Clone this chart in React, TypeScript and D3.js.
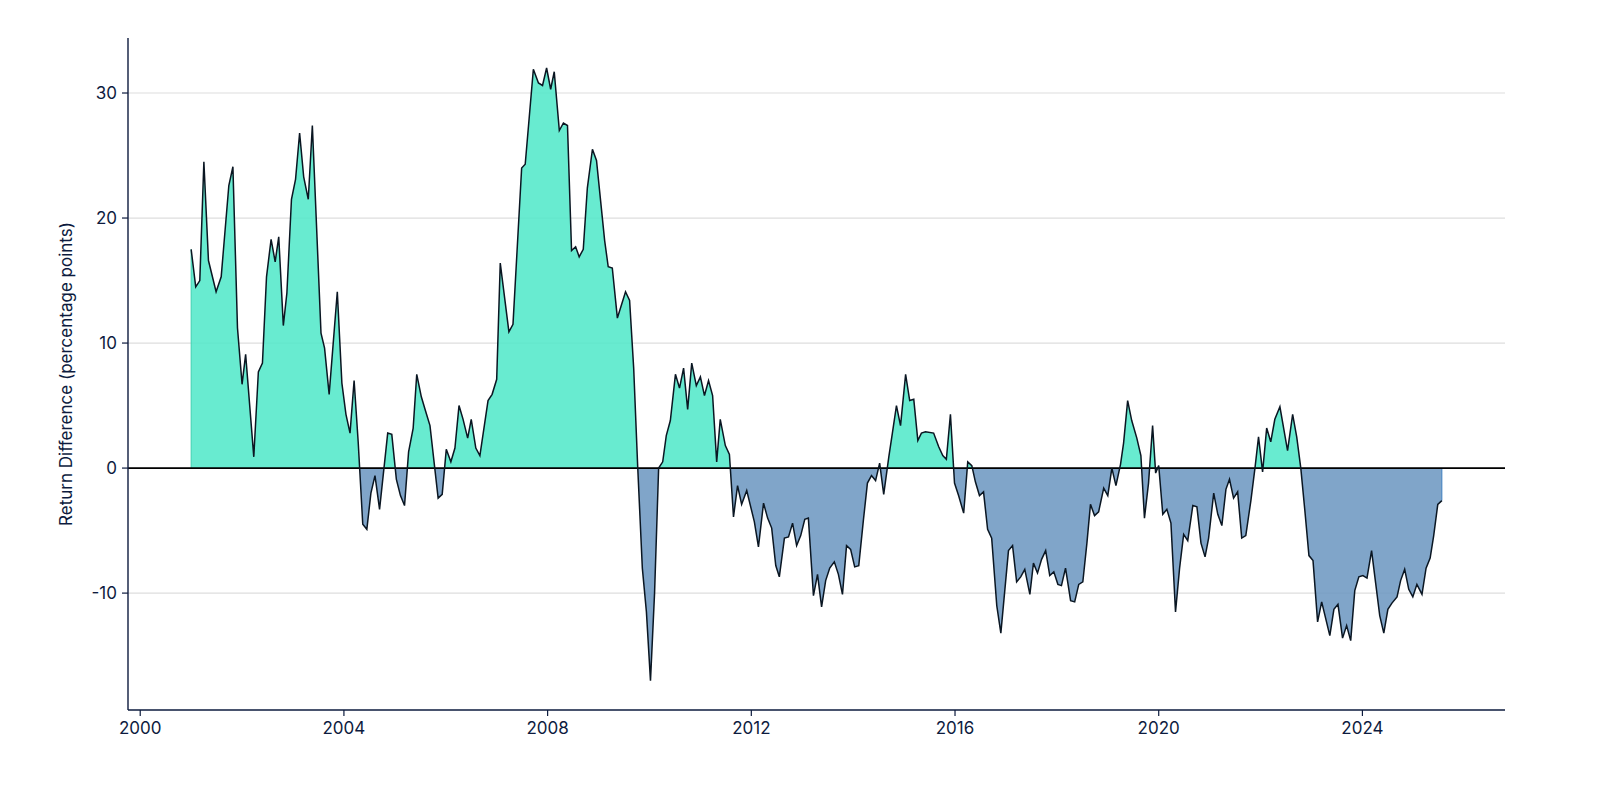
import * as d3 from "d3";

// observed vertices (decimal year)
const years = [
  2001.0, 2001.09, 2001.17, 2001.25, 2001.34, 2001.49, 2001.59, 2001.74, 2001.82, 2001.91,
  2002.0, 2002.07, 2002.23, 2002.32, 2002.4, 2002.48, 2002.57, 2002.65, 2002.72, 2002.81,
  2002.88, 2002.97, 2003.05, 2003.13, 2003.21, 2003.3, 2003.38, 2003.55, 2003.62, 2003.71,
  2003.87, 2003.96, 2004.04, 2004.12, 2004.2, 2004.28, 2004.37, 2004.45, 2004.53, 2004.61,
  2004.7, 2004.86, 2004.94, 2005.03, 2005.11, 2005.19, 2005.27, 2005.36, 2005.43, 2005.52,
  2005.6, 2005.69, 2005.85, 2005.93, 2006.01, 2006.1, 2006.18, 2006.26, 2006.34, 2006.43,
  2006.5, 2006.59, 2006.67, 2006.83, 2006.91, 2007.0, 2007.07, 2007.24, 2007.32, 2007.49,
  2007.56, 2007.72, 2007.82, 2007.9, 2007.98, 2008.06, 2008.13, 2008.23, 2008.31, 2008.39,
  2008.47, 2008.55, 2008.62, 2008.7, 2008.78, 2008.88, 2008.96, 2009.12, 2009.19, 2009.27,
  2009.37, 2009.53, 2009.61, 2009.69, 2009.77, 2009.86, 2009.94, 2010.02, 2010.1, 2010.18,
  2010.26, 2010.33, 2010.41, 2010.51, 2010.59, 2010.67, 2010.75, 2010.83, 2010.92, 2011.0,
  2011.08, 2011.16, 2011.24, 2011.32, 2011.39, 2011.49, 2011.57, 2011.65, 2011.73, 2011.81,
  2011.91, 2012.06, 2012.14, 2012.24, 2012.32, 2012.4, 2012.48, 2012.55, 2012.65, 2012.73,
  2012.81, 2012.89, 2012.97, 2013.05, 2013.12, 2013.22, 2013.3, 2013.38, 2013.46, 2013.54,
  2013.63, 2013.71, 2013.79, 2013.87, 2013.95, 2014.03, 2014.11, 2014.2, 2014.28, 2014.36,
  2014.44, 2014.52, 2014.6, 2014.7, 2014.77, 2014.85, 2014.93, 2015.03, 2015.11, 2015.19,
  2015.27, 2015.34, 2015.42, 2015.58, 2015.68, 2015.76, 2015.83, 2015.91, 2015.99, 2016.07,
  2016.17, 2016.25, 2016.33, 2016.4, 2016.48, 2016.56, 2016.64, 2016.72, 2016.82, 2016.9,
  2017.05, 2017.13, 2017.21, 2017.29, 2017.37, 2017.47, 2017.54, 2017.62, 2017.7, 2017.78,
  2017.86, 2017.94, 2018.02, 2018.09, 2018.17, 2018.27, 2018.35, 2018.43, 2018.51, 2018.59,
  2018.66, 2018.74, 2018.82, 2018.92, 2019.0, 2019.08, 2019.16, 2019.25, 2019.31, 2019.39,
  2019.47, 2019.57, 2019.65, 2019.72, 2019.8, 2019.88, 2019.94, 2020.0, 2020.08, 2020.16,
  2020.24, 2020.33, 2020.41, 2020.49, 2020.57, 2020.67, 2020.75, 2020.83, 2020.91, 2020.98,
  2021.08, 2021.16, 2021.24, 2021.32, 2021.39, 2021.47, 2021.55, 2021.63, 2021.71, 2021.81,
  2021.89, 2021.96, 2022.04, 2022.12, 2022.2, 2022.28, 2022.38, 2022.53, 2022.63, 2022.71,
  2022.79, 2022.87, 2022.95, 2023.03, 2023.12, 2023.2, 2023.36, 2023.44, 2023.52, 2023.61,
  2023.69, 2023.77, 2023.85, 2023.93, 2024.01, 2024.09, 2024.18, 2024.26, 2024.34, 2024.42,
  2024.5, 2024.58, 2024.68, 2024.75, 2024.83, 2024.91, 2024.99, 2025.07, 2025.17, 2025.25,
  2025.33, 2025.4, 2025.48, 2025.56,
];

const values = [
  17.5, 14.5, 15, 24.5, 16.6, 14.1, 15.3, 22.6, 24.1, 11.2,
  6.7, 9.1, 0.9, 7.7, 8.4, 15.3, 18.3, 16.5, 18.5, 11.4,
  14, 21.5, 23.1, 26.8, 23.3, 21.5, 27.4, 10.8, 9.6, 5.9,
  14.1, 6.8, 4.3, 2.8, 7, 2.1, -4.5, -4.9, -2, -0.6,
  -3.3, 2.8, 2.7, -0.9, -2.2, -3, 1.3, 3.2, 7.5, 5.7,
  4.6, 3.4, -2.4, -2.1, 1.5, 0.5, 1.6, 5, 3.9, 2.4,
  3.9, 1.6, 1, 5.4, 5.9, 7.1, 16.4, 10.9, 11.5, 24,
  24.3, 31.9, 30.8, 30.6, 32, 30.3, 31.7, 27, 27.6, 27.4,
  17.4, 17.7, 16.9, 17.5, 22.4, 25.5, 24.6, 18.2, 16.1, 16,
  12, 14.1, 13.4, 8, 0, -8, -11.5, -17, -10, 0,
  0.5, 2.6, 3.8, 7.5, 6.4, 8, 4.7, 8.4, 6.6, 7.3,
  5.8, 7, 5.8, 0.5, 3.9, 1.8, 1.1, -3.9, -1.4, -2.9,
  -1.8, -4.3, -6.3, -2.8, -4, -4.8, -7.8, -8.7, -5.6, -5.5,
  -4.4, -6.2, -5.4, -4.1, -4, -10.2, -8.5, -11.1, -9, -8,
  -7.5, -8.5, -10.1, -6.2, -6.5, -7.9, -7.8, -4.2, -1.2, -0.6,
  -1, 0.4, -2.1, 0.9, 2.8, 5, 3.4, 7.5, 5.4, 5.5,
  2.2, 2.8, 2.9, 2.8, 1.7, 1, 0.7, 4.3, -1.2, -2.2,
  -3.6, 0.5, 0.2, -1.1, -2.2, -1.9, -4.9, -5.6, -11, -13.2,
  -6.6, -6.2, -9.1, -8.7, -8.1, -10.1, -7.6, -8.4, -7.3, -6.6,
  -8.6, -8.3, -9.3, -9.4, -8, -10.6, -10.7, -9.3, -9.1, -6,
  -2.9, -3.8, -3.5, -1.6, -2.2, 0, -1.4, 0.3, 2, 5.4,
  3.8, 2.4, 1, -4, -1.2, 3.4, -0.4, 0.2, -3.7, -3.3,
  -4.4, -11.5, -8, -5.3, -5.8, -3, -3.1, -6, -7.1, -5.6,
  -2, -3.7, -4.6, -1.7, -0.9, -2.4, -1.9, -5.6, -5.4, -2.6,
  0, 2.5, -0.3, 3.2, 2.1, 3.9, 4.9, 1.4, 4.3, 2.5,
  0, -3.4, -7, -7.4, -12.3, -10.7, -13.4, -11.3, -10.9, -13.6,
  -12.6, -13.8, -9.8, -8.7, -8.6, -8.8, -6.6, -9.2, -11.8, -13.2,
  -11.3, -10.8, -10.3, -9, -8.1, -9.7, -10.3, -9.3, -10.1, -8,
  -7.2, -5.4, -2.9, -2.6,
];

const yTicks = [-10, 0, 10, 20, 30];
const xTicks = [2000, 2004, 2008, 2012, 2016, 2020, 2024];

const W = 1620;
const H = 808;
const M = { left: 128, right: 1505, top: 38, bottom: 710 };
const FONT = "Inter, 'DejaVu Sans', sans-serif";
const INK = "#0d1b3e";

export default function App() {
  const x = d3.scaleLinear().domain([1999.76, 2026.8]).range([M.left, M.right]);
  const y = d3.scaleLinear().domain([-19.35, 34.4]).range([M.bottom, M.top]);
  const pts = years.map((yr, i) => [yr, values[i]] as [number, number]);

  const area = d3
    .area<[number, number]>()
    .x((d) => x(d[0]))
    .y0(y(0))
    .y1((d) => y(d[1]))(pts) as string;
  const line = d3
    .line<[number, number]>()
    .x((d) => x(d[0]))
    .y((d) => y(d[1]))(pts) as string;

  const y0 = y(0);

  return (
    <svg width={W} height={H} style={{ position: "absolute", left: 0, top: 0, background: "#fff" }} fontFamily={FONT}>
      <defs>
        <clipPath id="above">
          <rect x={M.left} y={0} width={M.right - M.left} height={y0} />
        </clipPath>
        <clipPath id="below">
          <rect x={M.left} y={y0} width={M.right - M.left} height={H - y0} />
        </clipPath>
      </defs>

      {yTicks.map((t) => (
        <g key={t}>
          <line x1={M.left} x2={M.right} y1={y(t)} y2={y(t)} stroke="#dedede" strokeWidth={1.2} />
          <line x1={M.left - 6} x2={M.left} y1={y(t)} y2={y(t)} stroke={INK} strokeWidth={1.2} />
          <text x={M.left - 11} y={y(t)} dy="0.35em" textAnchor="end" fontSize={17} fill={INK}>
            {t}
          </text>
        </g>
      ))}

      <path d={area} fill="#4ee8c8" fillOpacity={0.85} clipPath="url(#above)" />
      <path d={area} fill="#6a95c0" fillOpacity={0.85} clipPath="url(#below)" />
      <line x1={x(years[0])} x2={x(years[0])} y1={y0} y2={y(values[0])} stroke="#3fd0b0" strokeWidth={1} />
      <line
        x1={x(years[years.length - 1])}
        x2={x(years[years.length - 1])}
        y1={y0}
        y2={y(values[values.length - 1])}
        stroke="#3f7fbf"
        strokeWidth={1}
      />
      <line x1={M.left} x2={M.right} y1={y0} y2={y0} stroke="#000" strokeWidth={1.8} />
      <path d={line} fill="none" stroke="#0a1622" strokeWidth={1.5} strokeLinejoin="miter" />

      <line x1={M.left} x2={M.left} y1={M.top} y2={M.bottom} stroke={INK} strokeWidth={1.4} />
      <line x1={M.left} x2={M.right} y1={M.bottom} y2={M.bottom} stroke={INK} strokeWidth={1.4} />
      {xTicks.map((t) => (
        <g key={t}>
          <line x1={x(t)} x2={x(t)} y1={M.bottom} y2={M.bottom + 6} stroke={INK} strokeWidth={1.2} />
          <text x={x(t)} y={M.bottom + 24} textAnchor="middle" fontSize={17} fill={INK}>
            {t}
          </text>
        </g>
      ))}

      <text
        transform={`translate(72,${(M.top + M.bottom) / 2}) rotate(-90)`}
        textAnchor="middle"
        fontSize={17}
        fill={INK}
      >
        Return Difference (percentage points)
      </text>
    </svg>
  );
}
